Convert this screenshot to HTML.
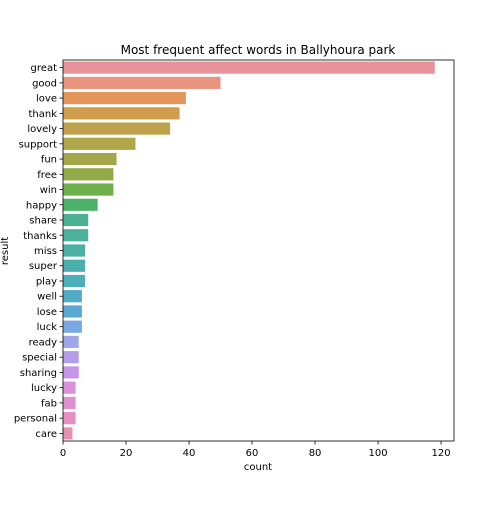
<!DOCTYPE html>
<html><head><meta charset="utf-8"><style>
body{margin:0;background:#fff;font-family:"Liberation Sans","DejaVu Sans",sans-serif;}
svg text{font-family:"DejaVu Sans","Liberation Sans",sans-serif;font-size:10px;fill:#000}
</style></head><body>
<svg id="chart" width="504" height="504">
<text x="258" y="54" text-anchor="middle" style="font-size:12px">Most frequent affect words in Ballyhoura park</text>
<g id="bars"></g><g id="axes"></g>
<rect x="63" y="60" width="391" height="381" fill="none" stroke="#000" stroke-width="0.8"/>
<text x="258" y="470" text-anchor="middle">count</text>
<text x="8" y="251" text-anchor="middle" transform="rotate(-90 8 251)">result</text>
</svg>
<script>
const categories=["great","good","love","thank","lovely","support","fun","free","win","happy","share","thanks","miss","super","play","well","lose","luck","ready","special","sharing","lucky","fab","personal","care"];
const values=[118,50,39,37,34,23,17,16,16,11,8,8,7,7,7,6,6,6,5,5,5,4,4,4,3];
const xTicks=[0,20,40,60,80,100,120];
const colors=["#e8939a","#e9947f","#e2945a","#d19c4c","#c0a24c","#b0a64a","#a2a84a","#93aa4a","#6fb04a","#4db36a","#4bb192","#4bb09c","#4bafa6","#4baeaf","#4dadb8","#52abc4","#5aa9d4","#7aa8e4","#a0a6ea","#b49eea","#c795e8","#d98fdb","#e08fcf","#e48fc0","#e691b0"];
const NS="http://www.w3.org/2000/svg";
const x0=63,x1=454,y0=60,y1=441,xmax=124.1;
const xs=v=>x0+v/xmax*(x1-x0);
const band=(y1-y0)/categories.length;
const ys=i=>y0+i*band;
const bars=document.getElementById('bars'),axes=document.getElementById('axes');
function mk(t,a,p){const e=document.createElementNS(NS,t);for(const k in a)e.setAttribute(k,a[k]);p.appendChild(e);return e;}
categories.forEach((c,i)=>{
 const r=mk('rect',{x:x0,y:ys(i)+band*0.1,width:xs(values[i])-x0,height:band*0.8,fill:colors[i%colors.length]},bars);
 
 
 const yc=ys(i)+band/2;
 mk('line',{x1:x0-3.5,x2:x0,y1:yc,y2:yc,stroke:'#000','stroke-width':0.8},axes);
 const t=mk('text',{x:x0-6,y:yc+3.5,'text-anchor':'end'},axes);t.textContent=c;
 
 
});
xTicks.forEach(v=>{
 const x=xs(v);
 mk('line',{x1:x,x2:x,y1:y1,y2:y1+3.5,stroke:'#000','stroke-width':0.8},axes);
 const t=mk('text',{x:x,y:y1+15,'text-anchor':'middle'},axes);t.textContent=v;
 
 
});
</script>
</body></html>
